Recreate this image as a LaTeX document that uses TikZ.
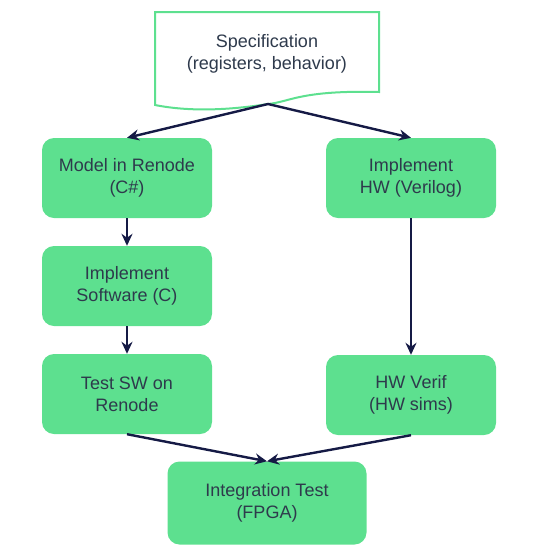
\documentclass[tikz,border=0pt]{standalone}
\usepackage{fontspec}
\setmainfont{Liberation Sans}
\usetikzlibrary{arrows.meta}
\definecolor{VertBoite}{HTML}{5DE08F}
\definecolor{TexteGris}{HTML}{2E3A4C}
\definecolor{FlecheBleu}{HTML}{151A45}
\tikzstyle{boite}  =[draw=none, fill=VertBoite, rounded corners=12pt, minimum width=170pt, minimum height=80pt, align=center, text=TexteGris, font=\fontsize{18}{22}\selectfont]
\tikzstyle{fleche} =[line width=2.4pt, color=FlecheBleu, -{Stealth[length=12pt,width=11pt]}]
\begin{document}
\begin{tikzpicture}[x=1pt,y=-1pt]
 \useasboundingbox (0,0) rectangle (539,558);
 % specification (document shape)
 \draw[line width=2pt, color=VertBoite, fill=white] (155,12) -- (379,12) -- (379,92)
   .. controls (300,90) and (290,102) .. (268,104)
   .. controls (230,110) and (190,112) .. (155,105) -- cycle;
 \node[align=center, text=TexteGris, font=\fontsize{18}{22}\selectfont] (spec) at (267,54) {Specification\\(registers, behavior)};
 \coordinate (specbas) at (268,104);
 % boites
 \node[boite] (modele)  at (127,178) {Model in Renode\\(C\#)};
 \node[boite] (hw)      at (411,178) {Implement\\HW (Verilog)};
 \node[boite] (logiciel) at (127,286) {Implement\\Software (C)};
 \node[boite] (testsw)  at (127,394) {Test SW on\\Renode};
 \node[boite] (verif)   at (411,395) {HW Verif\\(HW sims)};
 \node[boite, minimum width=199pt, minimum height=83pt] (integ) at (267,503) {Integration Test\\(FPGA)};
 % fleches
 \draw[fleche] (specbas) -- (modele.north);
 \draw[fleche] (specbas) -- (hw.north);
 \draw[fleche] (modele) -- (logiciel);
 \draw[fleche] (logiciel) -- (testsw);
 \draw[fleche] (hw) -- (verif);
 \draw[fleche] (testsw.south) -- (integ.north);
 \draw[fleche] (verif.south) -- (integ.north);
\end{tikzpicture}
\end{document}
